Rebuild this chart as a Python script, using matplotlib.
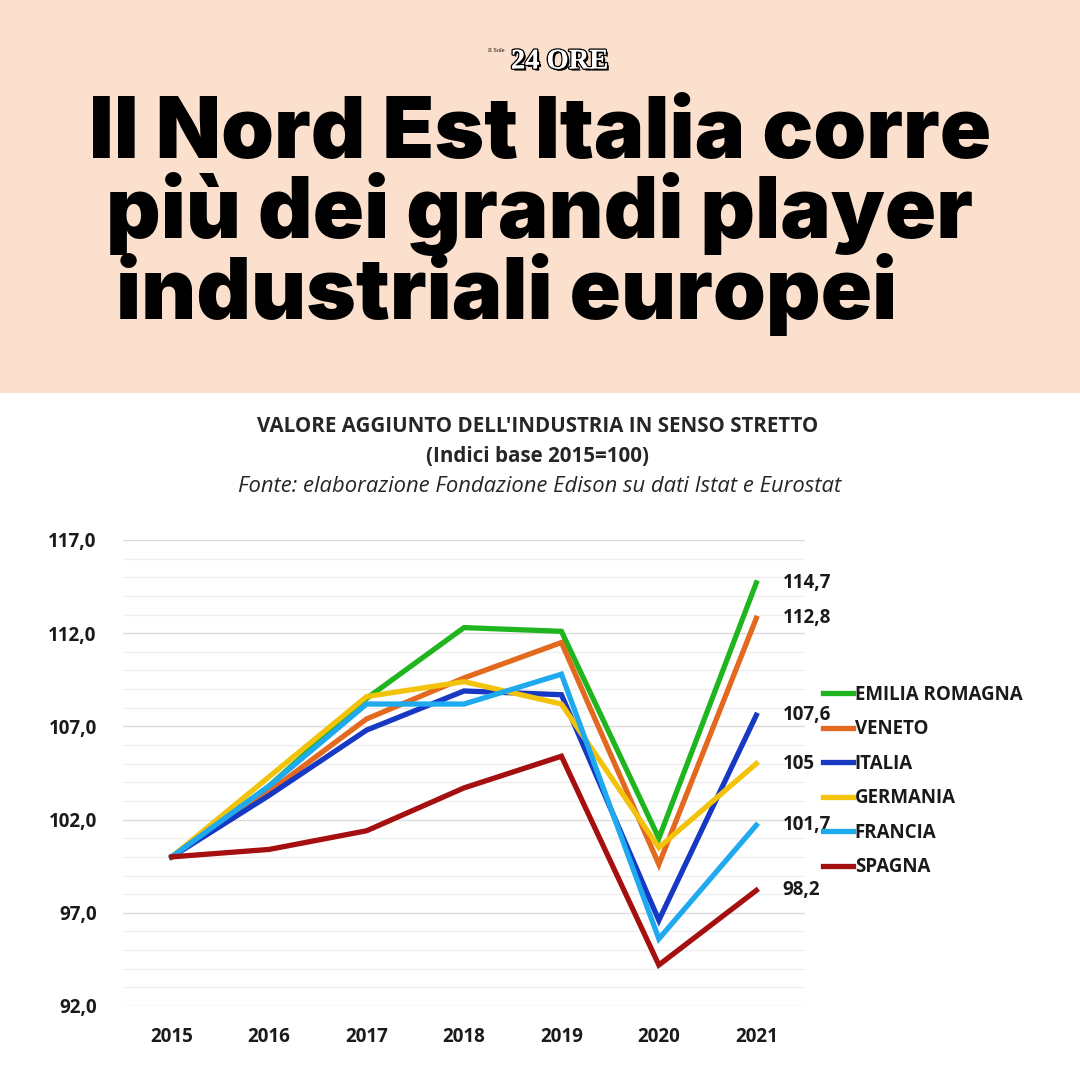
import numpy as np
import matplotlib
matplotlib.use("Agg")
import matplotlib.pyplot as plt
import matplotlib.patheffects as pe
from matplotlib.patches import Rectangle

# data
years = ["2015", "2016", "2017", "2018", "2019", "2020", "2021"]
series_names = ["EMILIA ROMAGNA", "VENETO", "ITALIA", "GERMANIA", "FRANCIA", "SPAGNA"]
emilia = [100.0, 103.8, 108.5, 112.3, 112.1, 101.0, 114.7]
veneto = [100.0, 103.5, 107.4, 109.6, 111.5, 99.6, 112.8]
italia = [100.0, 103.3, 106.8, 108.9, 108.7, 96.6, 107.6]
germania = [100.0, 104.3, 108.6, 109.4, 108.2, 100.5, 105.0]
francia = [100.0, 103.8, 108.2, 108.2, 109.8, 95.6, 101.7]
spagna = [100.0, 100.4, 101.4, 103.7, 105.4, 94.2, 98.2]
end_labels = ["114,7", "112,8", "107,6", "105", "101,7", "98,2"]
yticks = [92.0, 97.0, 102.0, 107.0, 112.0, 117.0]

colors = ["#1fb51f", "#e2691e", "#1638c2", "#f3c30c", "#1fa9ee", "#a50f0f"]
all_series = [emilia, veneto, italia, germania, francia, spagna]

W = 1080
fig = plt.figure(figsize=(10.8, 10.8), dpi=100)
fig.patch.set_facecolor("white")

# peach header band
fig.patches.append(Rectangle((0, 1 - 393 / W), 1, 393 / W, transform=fig.transFigure,
                             facecolor="#fbe0cd", edgecolor="none", zorder=0))

def fy(py):
    return 1 - py / W

# logo
fig.text(488 / W, fy(51), "Il Sole", fontsize=4.5, family="Liberation Serif",
         ha="left", va="center")
fig.text(511 / W, fy(62), "24 ORE", fontsize=20.5, family="Liberation Serif",
         weight="bold", color="white", ha="left", va="center",
         path_effects=[pe.withStroke(linewidth=2, foreground="black"),
                       pe.withSimplePatchShadow(offset=(1.5, -1.5), shadow_rgbFace="black", alpha=1)])

# main headline (one text block, last line padded so it sits left of centre)
headline = "Il Nord Est Italia corre\npiù dei grandi player\nindustriali europei    "
fig.text(540 / W, fy(216), headline, ha="center", va="center", multialignment="center",
         family=["Inter", "DejaVu Sans"], weight="black", fontsize=61, color="black",
         linespacing=0.96)

# chart titles
cfont = ["Open Sans", "DejaVu Sans"]
fig.text(538 / W, fy(427), "VALORE AGGIUNTO DELL'INDUSTRIA IN SENSO STRETTO",
         ha="center", va="center", fontsize=14.8, weight="bold", family=cfont, color="#262626")
fig.text(538 / W, fy(457), "(Indici base 2015=100)",
         ha="center", va="center", fontsize=14.8, weight="bold", family=cfont, color="#262626")
fig.text(540 / W, fy(487), "Fonte: elaborazione Fondazione Edison su dati Istat e Eurostat",
         ha="center", va="center", fontsize=15.8, style="italic", family=cfont, color="#262626")

# plot area
ax = fig.add_axes([123 / W, fy(1006), (805 - 123) / W, (1006 - 540) / W])
x = np.arange(len(years))
for name, vals, c in zip(series_names, all_series, colors):
    ax.plot(x, vals, color=c, lw=3.8, label=name, solid_joinstyle="miter", zorder=3)

for vals, lab in zip(all_series, end_labels):
    ax.annotate(lab, (x[-1], vals[-1]), xytext=(19, 0), textcoords="offset points",
                ha="left", va="center", fontsize=13.5, weight="bold", family=cfont,
                color="#1a1a1a", annotation_clip=False)

ax.set_xlim(-0.5, len(years) - 0.5)
ax.set_ylim(92, 117)
ax.set_xticks(x)
ax.set_xticklabels(years)
ax.set_yticks(yticks)
ax.set_yticklabels([f"{v:.1f}".replace(".", ",") for v in yticks])
ax.set_yticks(np.arange(92, 118, 1), minor=True)
ax.grid(axis="y", which="major", color="#dcdcdc", lw=1.0, zorder=0)
ax.grid(axis="y", which="minor", color="#eeeeee", lw=1.0, zorder=0)
ax.tick_params(which="both", length=0)
ax.tick_params(axis="y", pad=19)
ax.tick_params(axis="x", pad=15)
for lbl in ax.get_xticklabels() + ax.get_yticklabels():
    lbl.set_fontsize(13.5)
    lbl.set_fontweight("bold")
    lbl.set_family(cfont)
    lbl.set_color("#1a1a1a")
for s in ax.spines.values():
    s.set_visible(False)

leg = fig.legend(loc="upper left", bbox_to_anchor=(806 / W, fy(668)), frameon=False,
                 handlelength=1.6, handletextpad=0.1, labelspacing=0.77,
                 prop={"family": cfont, "weight": "bold", "size": 13.5})
for t in leg.get_texts():
    t.set_color("#1a1a1a")

fig.savefig("out.png", dpi=100, facecolor=fig.get_facecolor())
